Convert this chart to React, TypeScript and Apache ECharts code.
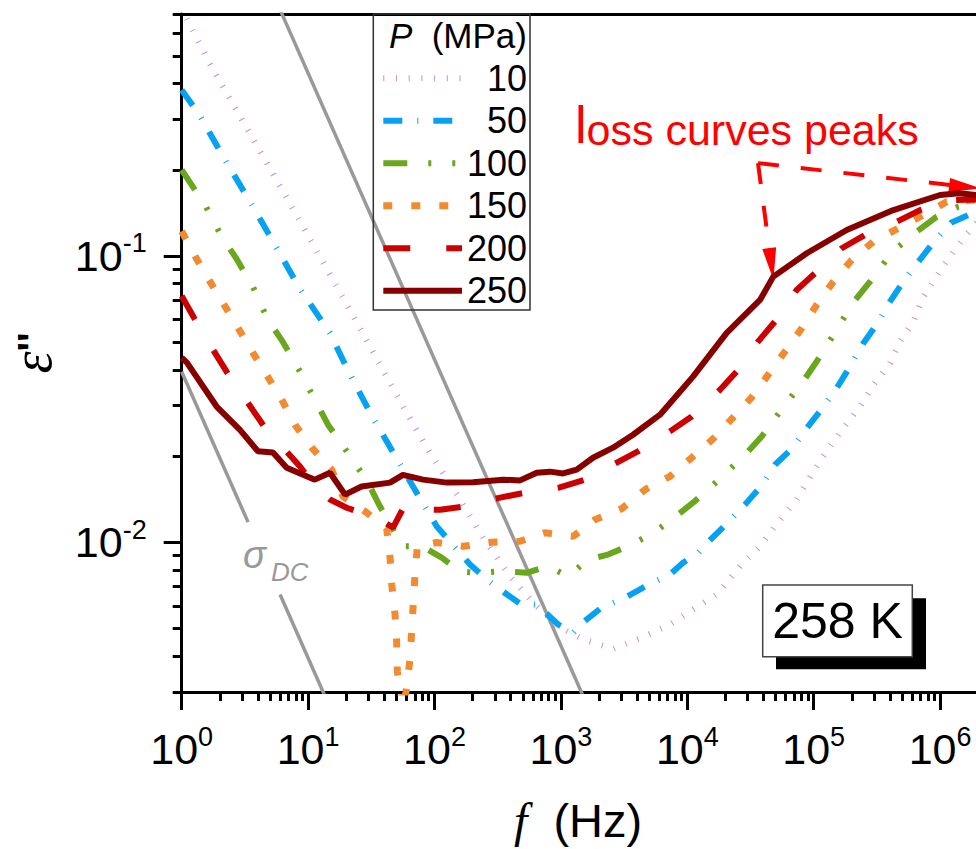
import React, { useEffect, useRef } from 'react';
import * as echarts from 'echarts';

// ---------- data ----------
const pressures = ['10', '50', '100', '150', '200', '250'];

const f10 = [1, 1.163, 1.778, 2.8, 4.42, 7.19, 12.4, 21.4, 37, 58.5, 92.1, 154, 243, 395, 624, 985, 1503, 2600, 4227, 7295, 11150, 17090, 26130, 37600, 49400, 73300, 99300, 134500, 171500, 232300, 296300, 401600, 481900, 614000, 728000, 1070000, 1600000, 2500000];
const e10 = [0.74, 0.639, 0.4456, 0.3146, 0.222, 0.1527, 0.0994, 0.0648, 0.0417, 0.029, 0.0205, 0.01447, 0.01036, 0.00761, 0.00606, 0.00504, 0.00458, 0.00424, 0.00462, 0.00516, 0.00583, 0.00657, 0.00825, 0.00968, 0.01137, 0.0141, 0.01769, 0.02162, 0.02506, 0.02981, 0.03548, 0.04224, 0.0502, 0.059, 0.0712, 0.093, 0.1184, 0.148];

const f50 = [1, 1.37, 2.16, 3.47, 5.47, 8.47, 14.9, 21.1, 32.4, 51.4, 81.1, 104, 139, 191, 265, 375, 475, 644, 953, 1252, 1503, 2100, 3214, 4842, 7295, 9250, 12200, 14220, 20800, 28600, 38200, 49400, 67950, 88100, 117500, 152000, 193800, 247000, 320000, 401600, 527600, 895000, 1220000, 1680000, 2500000];
const e50 = [0.38, 0.313, 0.2197, 0.1547, 0.1093, 0.0777, 0.0538, 0.0391, 0.02733, 0.01927, 0.01365, 0.01137, 0.00982, 0.00836, 0.00735, 0.00657, 0.00611, 0.00606, 0.00516, 0.00483, 0.00526, 0.00592, 0.0064, 0.00708, 0.00772, 0.00848, 0.00918, 0.0099, 0.01169, 0.01354, 0.01568, 0.01866, 0.02134, 0.02506, 0.02943, 0.03456, 0.0411, 0.0496, 0.0583, 0.0693, 0.0831, 0.1122, 0.1307, 0.139, 0.148];

const f100 = [1, 1.557, 2.07, 2.69, 3.66, 4.81, 6.3, 8.63, 11.7, 14.4, 21.4, 29.8, 37, 47, 55, 79.2, 114, 159, 222, 348, 536, 790, 1138, 1638, 2360, 3631, 5353, 7530, 11100, 18150, 28600, 38800, 56200, 82200, 105600, 147500, 204600, 279000, 420000, 653000, 940000, 1390000, 2500000];
const e100 = [0.2, 0.1486, 0.1168, 0.0984, 0.078, 0.0598, 0.0502, 0.0394, 0.0306, 0.0257, 0.02006, 0.01615, 0.01335, 0.0111, 0.00968, 0.0097, 0.00884, 0.00792, 0.00782, 0.00792, 0.00782, 0.00825, 0.00761, 0.0087, 0.00906, 0.00982, 0.01078, 0.012, 0.01375, 0.01668, 0.0202, 0.02343, 0.02927, 0.0364, 0.0428, 0.0541, 0.0686, 0.0813, 0.1035, 0.1215, 0.1371, 0.1486, 0.155];

const f150 = [1, 1.274, 1.644, 2.12, 2.79, 3.66, 4.81, 6.18, 7.88, 10.7, 15.4, 18.9, 29.1, 41.9, 44.5, 45.9, 48.7, 50.2, 50.8, 56.3, 59.5, 64, 66, 68, 70.1, 73.1, 104, 169, 283.5, 475, 748, 1253, 1862, 3027, 4627, 7295, 10840, 16060, 22870, 32350, 43750, 59300, 80400, 105600, 142900, 199900, 296000, 467000, 736000, 1128000, 2500000];
const e150 = [0.122, 0.1, 0.0825, 0.0686, 0.0561, 0.0459, 0.0378, 0.0315, 0.0257, 0.0214, 0.0179, 0.01443, 0.0127, 0.0111, 0.00884, 0.00712, 0.0056, 0.00447, 0.00354, 0.0026, 0.003, 0.0039, 0.00489, 0.00616, 0.00772, 0.00968, 0.00998, 0.00968, 0.01, 0.01008, 0.0108, 0.01049, 0.012, 0.0131, 0.01527, 0.017, 0.01974, 0.023, 0.0272, 0.0321, 0.0385, 0.0464, 0.0559, 0.0675, 0.0813, 0.0968, 0.1122, 0.125, 0.139, 0.1547, 0.158];

const f200 = [1, 1.44, 2.32, 4.48, 8.63, 11.3, 14.9, 20.2, 29.1, 37, 47, 58.5, 76.9, 110.7, 174.6, 330, 521, 951, 1552, 2584, 4074, 7295, 10840, 18150, 24600, 36250, 49400, 73300, 105600, 166600, 254900, 453700, 693500, 1200000, 2500000];
const e200 = [0.0725, 0.0545, 0.0388, 0.0254, 0.0184, 0.01568, 0.0141, 0.0132, 0.0125, 0.012, 0.01125, 0.01354, 0.01299, 0.013, 0.01335, 0.01432, 0.0149, 0.0155, 0.01655, 0.01866, 0.02077, 0.0244, 0.0275, 0.0341, 0.0395, 0.0502, 0.059, 0.0761, 0.0881, 0.1064, 0.1184, 0.1317, 0.1446, 0.1568, 0.158];

const f250 = [1, 1.1, 1.89, 2.89, 4.01, 5.27, 6.77, 11.3, 14.9, 19.6, 26.5, 44.5, 56.3, 81.1, 125, 202, 349, 475, 644, 820, 1040, 1334, 1795, 2584, 3722, 6085, 11100, 20500, 37600, 47900, 88100, 182500, 426600, 998000, 1410000, 1930000, 2500000];
const e250 = [0.0441, 0.0424, 0.0298, 0.0247, 0.0208, 0.0206, 0.0182, 0.01655, 0.0175, 0.01467, 0.01567, 0.01616, 0.0172, 0.01655, 0.01616, 0.0162, 0.01655, 0.01645, 0.0175, 0.01765, 0.0174, 0.01793, 0.01974, 0.0214, 0.02375, 0.0279, 0.0379, 0.0539, 0.0702, 0.0847, 0.1022, 0.1232, 0.1446, 0.1633, 0.1655, 0.1633, 0.16];

// sigma_DC guide lines (slope -1)
const sigmaLowF = [1, 3.35];
const sigmaLowE = [0.0394, 0.01176];
const sigmaLowF2 = [6.0, 15];
const sigmaLowE2 = [0.00657, 0.00263];
const sigmaHighF = [5, 1600];
const sigmaHighE = [0.87, 0.00272];

// annotation arrows (data coordinates)
const arrowFrom = [36250, 0.211];
const arrowToLow = [46200, 0.0938];
const arrowToPeak = [1578000, 0.1745];

// axes
const X_MIN = 1;
const X_MAX = 2500000;
const Y_MIN = 0.003;
const Y_MAX = 0.7;
const xMajorTicks = [1, 10, 100, 1000, 10000, 100000, 1000000];
const yMajorTicks = [0.01, 0.1];
const minorMultipliers = [2, 3, 4, 5, 6, 7, 8, 9];
const xDecades = [1, 10, 100, 1000, 10000, 100000, 1000000];
const yDecades = [0.001, 0.01, 0.1];

// ---------- styles ----------
const FONT = 'Liberation Sans, Arial, sans-serif';
const SERIF = 'Liberation Serif, Times New Roman, serif';
const seriesStyles = [
  { color: '#c98fd1', width: 6, dash: [1, 11.7] },
  { color: '#05a2f2', width: 6, dash: [19, 15, 1, 15] },
  { color: '#6aa71e', width: 6, dash: [24, 21, 3, 21, 3, 21] },
  { color: '#f28a30', width: 7, dash: [9, 19] },
  { color: '#cc0000', width: 6, dash: [27, 36] },
  { color: '#870000', width: 6, dash: null as number[] | null },
];
const seriesF = [f10, f50, f100, f150, f200, f250];
const seriesE = [e10, e50, e100, e150, e200, e250];

function minorTicks(decades: number[], lo: number, hi: number) {
  const out: number[] = [];
  decades.forEach((d) =>
    minorMultipliers.forEach((m) => {
      const v = Number((m * d).toPrecision(6));
      if (v >= lo && v <= hi) out.push(v);
    })
  );
  return out;
}

function zip(fs: number[], es: number[]) {
  return fs.map((f, i) => [f, es[i]]);
}

const tickRich = {
  n: { fontSize: 43, fontFamily: FONT, color: '#000', lineHeight: 52 },
  s: { fontSize: 27, fontFamily: FONT, color: '#000', lineHeight: 27, verticalAlign: 'top' },
};
const powLabel = (v: number) => {
  const e = Math.round(Math.log10(v));
  return `{n|10}{s|${e < 0 ? '-' + Math.abs(e) : e}}`;
};

export default function App() {
  const ref = useRef<HTMLDivElement>(null);
  useEffect(() => {
    document.body.style.margin = '0';
    const chart = echarts.init(ref.current!, null, { renderer: 'svg' });

    const xMinor = minorTicks(xDecades, X_MIN, X_MAX);
    const yMinor = minorTicks(yDecades, Y_MIN, Y_MAX);

    const logX = { type: 'log', logBase: 10, min: X_MIN, max: X_MAX, gridIndex: 0, splitLine: { show: false } };
    const logY = { type: 'log', logBase: 10, min: Y_MIN, max: Y_MAX, gridIndex: 0, splitLine: { show: false } };
    const axisLineStyle = { color: '#000', width: 3 };

    const lineSeries: any[] = pressures.map((p, i) => ({
      name: p,
      type: 'line',
      xAxisIndex: 0,
      yAxisIndex: 0,
      data: zip(seriesF[i], seriesE[i]),
      showSymbol: false,
      symbol: 'none',
      clip: true,
      z: 3 + i,
      lineStyle: {
        color: seriesStyles[i].color,
        width: seriesStyles[i].width,
        type: seriesStyles[i].dash || 'solid',
        cap: 'butt',
      },
    }));

    const grayStyle = { color: '#999999', width: 3.5, type: 'solid' };
    const graySeries: any[] = [
      [sigmaLowF, sigmaLowE],
      [sigmaLowF2, sigmaLowE2],
      [sigmaHighF, sigmaHighE],
    ].map(([fs, es], i) => ({
      name: 'sigmaDC' + i,
      type: 'line',
      data: zip(fs, es),
      showSymbol: false,
      symbol: 'none',
      z: 2,
      lineStyle: grayStyle,
    }));

    const arrowSeries = {
      name: 'peaks',
      type: 'line',
      data: [],
      z: 20,
      markLine: {
        silent: true,
        animation: false,
        symbol: ['none', 'triangle'],
        symbolSize: [14, 32],
        label: { show: false },
        lineStyle: { color: '#ff0000', width: 4, type: [21, 22] },
        itemStyle: { color: '#ff0000' },
        data: [
          [{ coord: arrowFrom }, { coord: arrowToLow }],
          [{ coord: arrowFrom }, { coord: arrowToPeak }],
        ],
      },
    };

    const legendTop = 78.3;
    const legendStep = 42.5;
    const legendGraphics: any[] = [];
    pressures.forEach((p, i) => {
      const y = legendTop + i * legendStep;
      const st = seriesStyles[i];
      legendGraphics.push({
        type: 'line',
        z: 60,
        shape: { x1: 383.3, y1: y, x2: 462, y2: y },
        style: { stroke: st.color, lineWidth: st.width, lineDash: st.dash || null, lineCap: 'butt' },
      });
      legendGraphics.push({
        type: 'text',
        z: 60,
        x: 527,
        y: y,
        style: { text: p, fontSize: 36, fontFamily: FONT, fill: '#000', align: 'right', verticalAlign: 'middle' },
      });
    });

    chart.setOption({
      animation: false,
      backgroundColor: '#ffffff',
      grid: { left: 181.7, top: 14, right: -14.4, bottom: 157, containLabel: false, outerBoundsMode: 'none' },
      xAxis: [
        {
          ...logX,
          position: 'bottom',
          axisLine: { show: true, onZero: false, lineStyle: axisLineStyle },
          axisTick: { show: true, inside: false, length: 18, lineStyle: axisLineStyle, customValues: xMajorTicks },
          axisLabel: { show: true, customValues: xMajorTicks, formatter: powLabel, margin: 31, rich: tickRich },
          minorTick: { show: false },
          name: '{f|f}{t|  (Hz)}',
          nameLocation: 'middle',
          nameGap: 104,
          nameMoveOverlap: false,
          nameTextStyle: {
            padding: [0, 16, 0, 0],
            rich: {
              f: { fontFamily: SERIF, fontStyle: 'italic', fontSize: 48, color: '#000', lineHeight: 48 },
              t: { fontFamily: FONT, fontSize: 47, color: '#000', lineHeight: 48 },
            },
          },
        },
        {
          ...logX,
          position: 'bottom',
          axisLine: { show: false },
          axisTick: { show: true, inside: false, length: 9, lineStyle: axisLineStyle, customValues: xMinor },
          axisLabel: { show: false },
        },
        {
          ...logX,
          position: 'top',
          axisLine: { show: true, onZero: false, lineStyle: axisLineStyle },
          axisTick: { show: false },
          axisLabel: { show: false },
        },
      ],
      yAxis: [
        {
          ...logY,
          position: 'left',
          axisLine: { show: true, onZero: false, lineStyle: axisLineStyle },
          axisTick: { show: true, inside: false, length: 18, lineStyle: axisLineStyle, customValues: yMajorTicks },
          axisLabel: { show: true, customValues: yMajorTicks, formatter: powLabel, margin: 35, rich: tickRich },
          name: "{e|ε}{q|''}",
          nameLocation: 'middle',
          nameRotate: 90,
          nameGap: 122,
          nameMoveOverlap: false,
          nameTextStyle: {
            rich: {
              e: { fontFamily: SERIF, fontStyle: 'italic', fontSize: 56, color: '#000', lineHeight: 56 },
              q: { fontFamily: FONT, fontWeight: 'bold', fontSize: 40, color: '#000', lineHeight: 56 },
            },
          },
        },
        {
          ...logY,
          position: 'left',
          axisLine: { show: false },
          axisTick: { show: true, inside: false, length: 9, lineStyle: axisLineStyle, customValues: yMinor },
          axisLabel: { show: false },
        },
      ],
      series: [...graySeries, ...lineSeries, arrowSeries],
      graphic: [
        // legend frame
        {
          type: 'rect',
          z: 60,
          shape: { x: 373.3, y: 14, width: 156.7, height: 296 },
          style: { fill: 'none', stroke: '#333', lineWidth: 1.5 },
        },
        {
          type: 'text',
          z: 60,
          x: 527,
          y: 35.5,
          style: {
            text: '{p|P}{t|  (MPa)}',
            align: 'right',
            verticalAlign: 'middle',
            rich: {
              p: { fontSize: 35, fontFamily: FONT, fontStyle: 'italic', fill: '#000' },
              t: { fontSize: 35, fontFamily: FONT, fill: '#000' },
            },
          },
        },
        ...legendGraphics,
        // annotation text
        {
          type: 'text',
          z: 60,
          x: 575,
          y: 151.3,
          style: {
            text: '{l|l}{t|oss curves peaks}',
            align: 'left',
            verticalAlign: 'bottom',
            rich: {
              l: { fontSize: 52, fontFamily: FONT, fill: '#ff0000', lineHeight: 52, verticalAlign: 'bottom' },
              t: { fontSize: 43, fontFamily: FONT, fill: '#ff0000', lineHeight: 46, verticalAlign: 'bottom' },
            },
          },
        },
        // sigma_DC label
        {
          type: 'text',
          z: 60,
          x: 243,
          y: 555,
          style: { text: 'σ', fontSize: 38, fontStyle: 'italic', fontFamily: FONT, fill: '#999', align: 'left', verticalAlign: 'middle' },
        },
        {
          type: 'text',
          z: 60,
          x: 271,
          y: 571.5,
          style: { text: 'DC', fontSize: 26, fontStyle: 'italic', fontFamily: FONT, fill: '#999', align: 'left', verticalAlign: 'middle' },
        },
        // temperature box
        {
          type: 'rect',
          z: 60,
          shape: { x: 776, y: 598.3, width: 150, height: 71 },
          style: { fill: '#000' },
        },
        {
          type: 'rect',
          z: 61,
          shape: { x: 762.7, y: 585, width: 149.6, height: 71.7 },
          style: { fill: '#fff', stroke: '#444', lineWidth: 1.5 },
        },
        {
          type: 'text',
          z: 62,
          x: 837.5,
          y: 621,
          style: { text: '258 K', fontSize: 50, fontFamily: FONT, fill: '#000', align: 'center', verticalAlign: 'middle' },
        },
      ],
    });

    return () => chart.dispose();
  }, []);

  return <div ref={ref} style={{ width: 976, height: 849 }} />;
}
